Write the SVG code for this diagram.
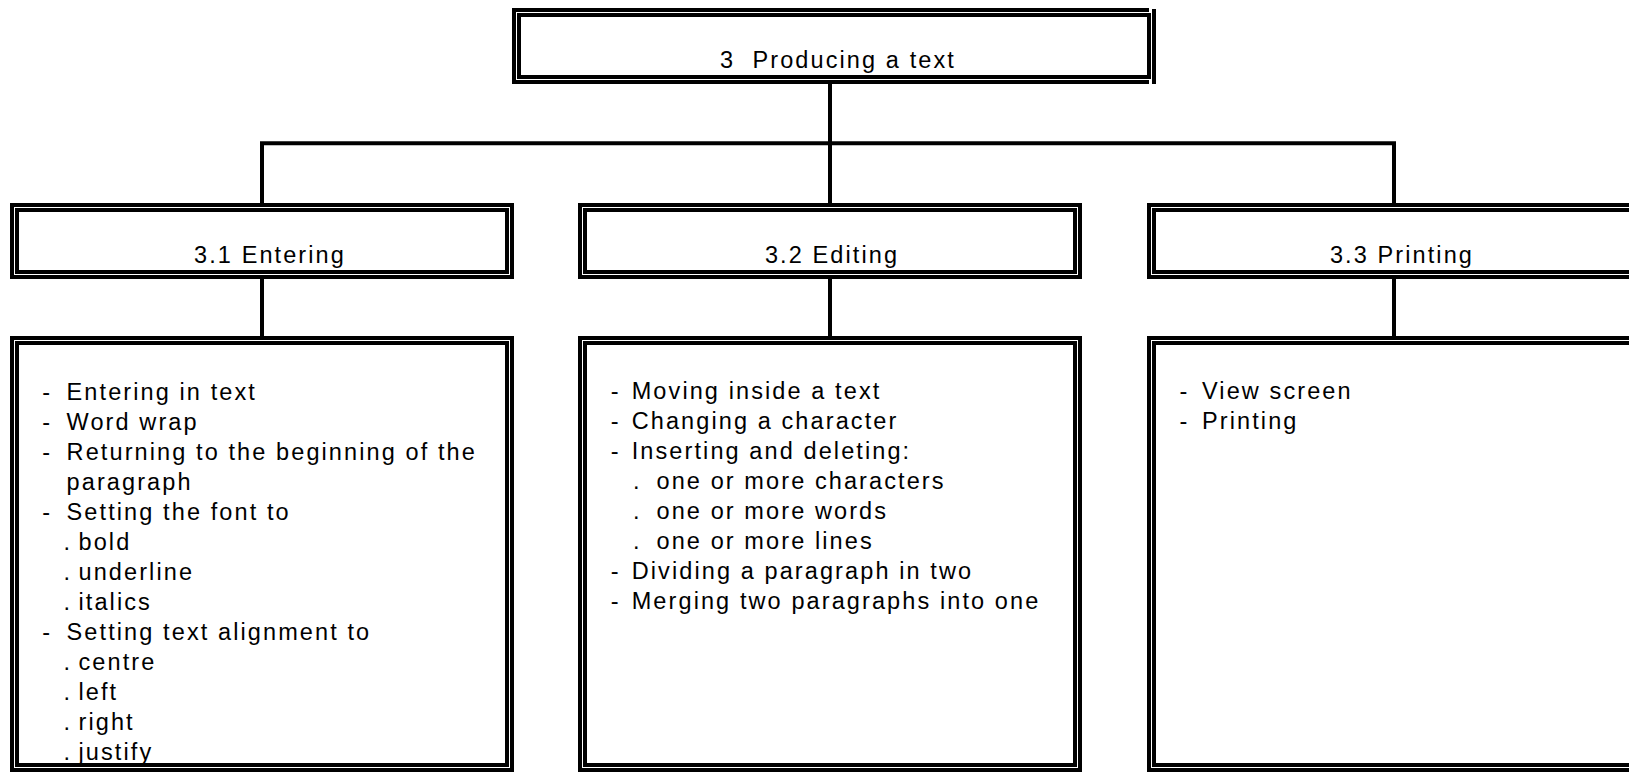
<svg xmlns="http://www.w3.org/2000/svg" width="1629" height="774" viewBox="0 0 1629 774">
<style>
.o{fill:none;stroke:#000;stroke-width:4}
.i{fill:none;stroke:#000;stroke-width:4}
.c{fill:none;stroke:#000;stroke-width:4}
text{font-family:"Liberation Sans",Arial,sans-serif;font-size:23.5px;letter-spacing:2.1px;fill:#000}
.m{text-anchor:middle}
</style>
<rect width="1629" height="774" fill="#fff"/>
<g id="connectors">
<line class="c" x1="830" y1="84" x2="830" y2="143.3"/>
<line class="c" x1="260" y1="143.3" x2="1396" y2="143.3"/>
<line class="c" x1="262" y1="143.3" x2="262" y2="203"/>
<line class="c" x1="830" y1="143.3" x2="830" y2="203"/>
<line class="c" x1="1394" y1="143.3" x2="1394" y2="203"/>
<line class="c" x1="262" y1="279" x2="262" y2="336"/>
<line class="c" x1="830" y1="279" x2="830" y2="336"/>
<line class="c" x1="1394" y1="279" x2="1394" y2="336"/>
</g>
<g id="n3">
<path class="o" d="M1149 10 H514 V82 H1149"/>
<line class="o" x1="1154" y1="9" x2="1154" y2="84"/>
<rect class="i" x="519" y="15" width="630" height="62"/>
<text class="m" x="838" y="68" xml:space="preserve">3  Producing a text</text>
</g>
<g id="n31">
<rect class="o" x="12" y="205" width="500" height="72"/>
<rect class="i" x="17" y="210" width="490" height="62"/>
<text class="m" x="270" y="263">3.1 Entering</text>
</g>
<g id="n32">
<rect class="o" x="580" y="205" width="500" height="72"/>
<rect class="i" x="585" y="210" width="490" height="62"/>
<text class="m" x="832" y="263">3.2 Editing</text>
</g>
<g id="n33">
<rect class="o" x="1149" y="205" width="500" height="72"/>
<rect class="i" x="1154" y="210" width="490" height="62"/>
<text class="m" x="1402" y="263">3.3 Printing</text>
</g>
<g id="n31c">
<rect class="o" x="12" y="338" width="500" height="432"/>
<rect class="i" x="17" y="343" width="490" height="422"/>
<text x="42.3" y="400">-</text><text x="66.6" y="400">Entering in text</text>
<text x="42.3" y="430">-</text><text x="66.6" y="430">Word wrap</text>
<text x="42.3" y="460">-</text><text x="66.6" y="460">Returning to the beginning of the</text>
<text x="66.6" y="490">paragraph</text>
<text x="42.3" y="520">-</text><text x="66.6" y="520">Setting the font to</text>
<text x="63.5" y="550">.</text><text x="78.5" y="550">bold</text>
<text x="63.5" y="580">.</text><text x="78.5" y="580">underline</text>
<text x="63.5" y="610">.</text><text x="78.5" y="610">italics</text>
<text x="42.3" y="640">-</text><text x="66.6" y="640">Setting text alignment to</text>
<text x="63.5" y="670">.</text><text x="78.5" y="670">centre</text>
<text x="63.5" y="700">.</text><text x="78.5" y="700">left</text>
<text x="63.5" y="730">.</text><text x="78.5" y="730">right</text>
<text x="63.5" y="760">.</text><text x="78.5" y="760">justify</text>
</g>
<g id="n32c">
<rect class="o" x="580" y="338" width="500" height="432"/>
<rect class="i" x="585" y="343" width="490" height="422"/>
<text x="610.7" y="399">-</text><text x="631.7" y="399">Moving inside a text</text>
<text x="610.7" y="429">-</text><text x="631.7" y="429">Changing a character</text>
<text x="610.7" y="459">-</text><text x="631.7" y="459">Inserting and deleting:</text>
<text x="633" y="489">.</text><text x="656.5" y="489">one or more characters</text>
<text x="633" y="519">.</text><text x="656.5" y="519">one or more words</text>
<text x="633" y="549">.</text><text x="656.5" y="549">one or more lines</text>
<text x="610.7" y="579">-</text><text x="631.7" y="579">Dividing a paragraph in two</text>
<text x="610.7" y="609">-</text><text x="631.7" y="609">Merging two paragraphs into one</text>
</g>
<g id="n33c">
<rect class="o" x="1149" y="338" width="500" height="432"/>
<rect class="i" x="1154" y="343" width="490" height="422"/>
<text x="1179.5" y="399">-</text><text x="1202" y="399">View screen</text>
<text x="1179.5" y="429">-</text><text x="1202" y="429">Printing</text>
</g>
</svg>
